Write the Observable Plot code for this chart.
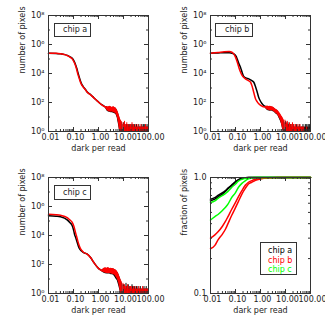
<!DOCTYPE html>
<html><head><meta charset="utf-8">
<script src="https://cdn.jsdelivr.net/npm/d3@7"></script>
<script src="https://cdn.jsdelivr.net/npm/@observablehq/plot@0.6"></script>
<style>
body{margin:0;background:#fff;}
#wrap{position:relative;width:325px;height:325px;font-family:"DejaVu Sans",sans-serif;background:#fff;overflow:hidden;}
.panel{position:absolute;}
.panel svg{overflow:visible;}
.box{position:absolute;border:1px solid #333;box-sizing:border-box;font-size:8px;color:#222;white-space:nowrap;}
</style></head><body>
<div id="wrap"></div>
<script>
// ---- tick labels / categories ----
const xTickValues = [0.01, 0.1, 1, 10, 100];
const histYTicks = [1, 1e2, 1e4, 1e6, 1e8];
const histYMinor = [10, 1e3, 1e5, 1e7];
const fracYTicks = [0.1, 1];
const chipNames = ["chip a", "chip b", "chip c"];

// ---- chip a histogram ----
const aRedX = [0.01, 0.02, 0.03, 0.045, 0.056, 0.07, 0.089, 0.105, 0.12, 0.135, 0.148, 0.17, 0.19, 0.215, 0.245, 0.3, 0.355, 0.5, 0.65, 0.9, 1.2, 1.5, 1.9];
const aRedY = [251000, 245000, 229000, 200000, 174000, 140000, 102000, 62000, 35500, 18000, 9500, 4500, 2500, 1600, 1150, 760, 510, 320, 210, 125, 81, 62, 48];
const aBlackX = [0.01, 0.02, 0.03, 0.045, 0.056, 0.07, 0.089, 0.105, 0.12, 0.135, 0.148, 0.17, 0.19, 0.215, 0.245, 0.3, 0.355, 0.5, 0.65, 0.9, 1.2, 1.5, 1.9];
const aBlackY = [245000, 240000, 226000, 200000, 178000, 148000, 112000, 72000, 42000, 23000, 13000, 5500, 3000, 1800, 1250, 800, 530, 330, 215, 128, 82, 63, 48];
const aBandX = [1.9, 2.2, 2.5, 2.8, 3.2, 3.6, 4.0, 4.5, 5.0, 5.6, 6.3, 7.0, 7.6, 8.2, 8.9];
const aRedHi = [50, 52, 48, 55, 50, 46, 52, 45, 42, 32, 20, 11, 7, 5.6, 4.5];
const aRedLo = [42, 28, 24, 22, 21, 22, 20, 19, 16, 10, 4, 1, 1, 1, 1];
const aBlackHi = [47, 50, 46, 50, 47, 44, 48, 42, 40, 30, 18, 10, 6, 5, 4];
const aBlackLo = [40, 26, 22, 21, 20, 20, 18, 17, 15, 9, 3, 1, 1, 1, 1];

// ---- shared tail bins ----
const tailX = [9.5, 10.2, 11, 11.8, 12.6, 13.5, 14.5, 15.5, 16.6, 17.8, 19, 20.4, 21.9, 23.4, 25, 27, 29, 31, 33, 35.5, 38, 41, 44, 47, 50, 54, 58, 62, 66, 71, 76, 81, 87, 93, 99];
const aRedTail = [4,3,5,3,2, 4,3,2,3,2, 3,2,4,2,3, 2,2,3,2,2, 3,2,2,2,3, 2,2,2,2,2, 3,2,2,2,2];
const aBlackTail = [3,4,3,2,3, 3,2,3,2,3, 2,3,2,3,2, 3,2,2,3,2, 2,3,2,2,2, 3,2,3,2,3, 2,2,3,2,3];

// ---- chip b histogram ----
const bRedX = [0.01, 0.02, 0.035, 0.056, 0.074, 0.1, 0.117, 0.135, 0.158, 0.186, 0.25, 0.316, 0.4, 0.457, 0.513, 0.63, 0.74, 0.85, 1.35, 1.6];
const bRedY = [251000, 282000, 316000, 331000, 282000, 135000, 63000, 27000, 12600, 7200, 4300, 3300, 2500, 1400, 680, 182, 112, 81, 50, 46];
const bBlackX = [0.01, 0.02, 0.035, 0.056, 0.079, 0.105, 0.117, 0.135, 0.158, 0.186, 0.214, 0.28, 0.34, 0.45, 0.54, 0.63, 0.74, 0.85, 0.93, 1.12, 1.35, 1.86];
const bBlackY = [251000, 263000, 275000, 275000, 240000, 158000, 100000, 50000, 27000, 11200, 6200, 4800, 4300, 3200, 2500, 1260, 513, 224, 155, 89, 62, 48];
const bBandX = [1.6, 1.9, 2.2, 2.5, 2.8, 3.2, 3.6, 4.0, 4.5, 5.0, 5.6, 6.3, 7.0, 7.6, 8.2, 8.9];
const bRedHi = [52, 58, 52, 56, 50, 48, 42, 35, 32, 28, 22, 17, 12, 10, 8, 6];
const bRedLo = [40, 30, 28, 26, 28, 25, 22, 18, 16, 12.6, 9, 6, 3, 1.6, 1, 1];
const bBlackHi = [50, 54, 50, 52, 48, 45, 40, 34, 30, 26, 20, 15, 11, 9, 7, 5];
const bBlackLo = [38, 28, 26, 25, 26, 23, 21, 17, 15, 12, 8, 5, 3, 1.5, 1, 1];
const bRedTail = [6,3,4,5,3, 2,4,3,2,3, 4,2,3,2,3, 2,2,3,2,2, 3,2,2,2,2, 2,1,1,1,2, 1,1,1,1,1];
const bBlackTail = [4,5,3,3,4, 3,2,3,3,2, 2,3,2,2,2, 3,2,2,2,3, 2,2,2,2,3, 2,2,3,2,3, 2,3,2,3,2];

// ---- chip c histogram ----
const cRedX = [0.01, 0.02, 0.03, 0.056, 0.071, 0.089, 0.105, 0.12, 0.135, 0.148, 0.166, 0.19, 0.22, 0.257, 0.355, 0.48, 0.65, 1.02, 1.41];
const cRedY = [295000, 275000, 251000, 174000, 120000, 79400, 40000, 16200, 7940, 4270, 2240, 1260, 890, 676, 513, 302, 138, 52, 37];
const cBlackX = [0.01, 0.02, 0.03, 0.056, 0.071, 0.089, 0.1, 0.11, 0.126, 0.141, 0.158, 0.178, 0.209, 0.245, 0.355, 0.48, 0.65, 1.02, 1.41];
const cBlackY = [229000, 214000, 195000, 120000, 79400, 46800, 25100, 12300, 6310, 3310, 1780, 1150, 850, 676, 513, 302, 138, 52, 37];
const cBandX = [1.41, 1.6, 1.9, 2.2, 2.5, 2.8, 3.2, 3.6, 4.0, 4.5, 5.0, 5.6, 6.3, 7.0, 7.6, 8.2, 8.9];
const cRedHi = [40, 52, 60, 55, 63, 52, 56, 50, 52, 46, 42, 35, 25, 16, 11, 8, 6];
const cRedLo = [32, 28, 25, 24, 23, 24, 22, 21, 20, 18, 14, 10, 6, 2.5, 1, 1, 1];
const cBlackHi = [38, 50, 56, 52, 58, 50, 52, 48, 48, 44, 40, 32, 24, 15, 10, 7, 5];
const cBlackLo = [30, 26, 23, 22, 22, 22, 20, 20, 18, 14, 10, 8, 4, 2, 1, 1, 1];
const cRedTail = [5,3,4,3,2, 3,4,2,3,2, 3,3,2,2,3, 2,2,3,2,2, 2,3,2,2,2, 2,3,2,2,2, 2,2,2,2,2];
const cBlackTail = [4,4,3,2,5, 3,2,4,2,3, 2,2,4,3,2, 3,2,2,3,2, 3,2,2,3,2, 2,2,2,3,2, 2,3,2,2,2];

// ---- cumulative fractions ----
const fracX = [0.01, 0.015, 0.02, 0.03, 0.04, 0.05, 0.07, 0.1, 0.13, 0.18, 0.25, 0.33, 0.45, 0.6, 0.8, 1.1, 2, 5, 10, 100];
const aFrac1 = [0.65, 0.67, 0.70, 0.74, 0.77, 0.81, 0.86, 0.92, 0.96, 0.985, 0.995, 1, 1, 1, 1, 1, 1, 1, 1, 1];
const aFrac2 = [0.63, 0.65, 0.68, 0.72, 0.76, 0.80, 0.85, 0.91, 0.95, 0.98, 0.993, 0.998, 1, 1, 1, 1, 1, 1, 1, 1];
const bFrac1 = [0.30, 0.32, 0.34, 0.38, 0.42, 0.46, 0.53, 0.61, 0.68, 0.77, 0.86, 0.91, 0.94, 0.96, 0.975, 0.985, 0.995, 1, 1, 1];
const bFrac2 = [0.243, 0.26, 0.29, 0.325, 0.36, 0.40, 0.47, 0.55, 0.62, 0.72, 0.81, 0.88, 0.91, 0.94, 0.96, 0.975, 0.99, 1, 1, 1];
const cFrac1 = [0.61, 0.63, 0.66, 0.70, 0.73, 0.76, 0.82, 0.88, 0.93, 0.965, 0.985, 0.995, 1, 1, 1, 1, 1, 1, 1, 1];
const cFrac2 = [0.43, 0.46, 0.48, 0.52, 0.555, 0.59, 0.67, 0.74, 0.82, 0.89, 0.94, 0.975, 0.99, 1, 1, 1, 1, 1, 1, 1];

const chipColors = ["#000000", "#ff0000", "#00ff00"];

// ---- layout ----
const W = 162, H = 162, ML = 48, MT = 15, PW = 100, PH = 116;
const INK = "#333";
const sup = {0: "⁰", 2: "²", 4: "⁴", 6: "⁶", 8: "⁸"};

const xAll = d3.scaleLog().domain([0.01, 100]).ticks();
const xMinor = xAll.filter(v => !xTickValues.some(t => Math.abs(t - v) / t < 1e-6));

function pts(xs, ys) { return xs.map((x, i) => ({x, y: ys[i]})); }
function band(xs, hi, lo) { return xs.map((x, i) => ({x, hi: hi[i], lo: lo[i]})); }
function spikes(xs, hs) { return xs.map((x, i) => ({x, h: hs[i]})); }

function frameTicks(yMajor, yMinor) {
  return [
    Plot.ruleX(xTickValues, {x: d => d, insetTop: PH - 4, stroke: INK}),
    Plot.ruleX(xTickValues, {x: d => d, insetBottom: PH - 4, stroke: INK}),
    Plot.ruleX(xMinor, {x: d => d, insetTop: PH - 2, stroke: INK}),
    Plot.ruleX(xMinor, {x: d => d, insetBottom: PH - 2, stroke: INK}),
    Plot.ruleY(yMajor, {y: d => d, insetRight: PW - 4, stroke: INK}),
    Plot.ruleY(yMajor, {y: d => d, insetLeft: PW - 4, stroke: INK}),
    Plot.ruleY(yMinor, {y: d => d, insetRight: PW - 2, stroke: INK}),
    Plot.ruleY(yMinor, {y: d => d, insetLeft: PW - 2, stroke: INK}),
    Plot.frame({stroke: INK}),
    Plot.axisX({ticks: xTickValues, tickSize: 0, tickPadding: 3, tickFormat: d3.format(".2f"), dx: 2, label: null})
  ];
}

function baseOpts() {
  return {
    width: W, height: H, marginLeft: ML, marginTop: MT, marginRight: W - ML - PW, marginBottom: H - MT - PH,
    style: {fontFamily: "DejaVu Sans, sans-serif", fontSize: "8px", color: "#222", background: "transparent", overflow: "visible"}
  };
}

function hist(c) {
  return Plot.plot({
    ...baseOpts(),
    x: {type: "log", domain: [0.01, 100]},
    y: {type: "log", domain: [1, 1e8]},
    marks: [
      Plot.areaY(band(c.bandX, c.blackHi, c.blackLo), {x: "x", y1: "lo", y2: "hi", fill: "#000"}),
      Plot.ruleX(spikes(tailX, c.blackTail), {x: "x", y1: d => 1, y2: "h", stroke: "#000"}),
      Plot.line(pts(c.blackX, c.blackY), {x: "x", y: "y", stroke: "#000", curve: "monotone-x"}),
      Plot.areaY(band(c.bandX, c.redHi, c.redLo), {x: "x", y1: "lo", y2: "hi", fill: "#ff0000"}),
      Plot.ruleX(spikes(tailX, c.redTail), {x: "x", y1: d => 1, y2: "h", stroke: "#ff0000"}),
      Plot.line(pts(c.redX, c.redY), {x: "x", y: "y", stroke: "#ff0000", curve: "monotone-x"}),
      ...frameTicks(histYTicks, histYMinor),
      Plot.axisY({ticks: histYTicks, tickSize: 0, tickPadding: 4, label: null, tickFormat: d => "10" + sup[Math.round(Math.log10(d))]}),
      Plot.text(["dark per read"], {text: d => d, frameAnchor: "bottom", dy: 19}),
      Plot.text(["number of pixels"], {text: d => d, frameAnchor: "left", rotate: -90, dx: -26})
    ]
  });
}

function frac() {
  const series = [[aFrac1, aFrac2], [bFrac1, bFrac2], [cFrac1, cFrac2]];
  const lines = [];
  series.forEach((pair, k) => pair.forEach(ys =>
    lines.push(Plot.line(pts(fracX, ys), {x: "x", y: "y", stroke: chipColors[k], curve: "monotone-x"}))));
  return Plot.plot({
    ...baseOpts(),
    x: {type: "log", domain: [0.01, 100]},
    y: {type: "log", domain: [0.1, 1]},
    marks: [
      ...lines,
      ...frameTicks(fracYTicks, [0.2, 0.3, 0.4, 0.5, 0.6, 0.7, 0.8, 0.9]),
      Plot.axisY({ticks: fracYTicks, tickSize: 0, tickPadding: 4, label: null, tickFormat: d3.format(".1f")}),
      Plot.text(["dark per read"], {text: d => d, frameAnchor: "bottom", dy: 19}),
      Plot.text(["fraction of pixels"], {text: d => d, frameAnchor: "left", rotate: -90, dx: -26})
    ]
  });
}

const wrap = document.getElementById("wrap");
function place(el, left, top) {
  const d = document.createElement("div");
  d.className = "panel"; d.style.left = left + "px"; d.style.top = top + "px";
  d.appendChild(el); wrap.appendChild(d);
}
place(hist({redX: aRedX, redY: aRedY, blackX: aBlackX, blackY: aBlackY, bandX: aBandX, redHi: aRedHi, redLo: aRedLo, blackHi: aBlackHi, blackLo: aBlackLo, redTail: aRedTail, blackTail: aBlackTail}), 0, 0);
place(hist({redX: bRedX, redY: bRedY, blackX: bBlackX, blackY: bBlackY, bandX: bBandX, redHi: bRedHi, redLo: bRedLo, blackHi: bBlackHi, blackLo: bBlackLo, redTail: bRedTail, blackTail: bBlackTail}), 162, 0);
place(hist({redX: cRedX, redY: cRedY, blackX: cBlackX, blackY: cBlackY, bandX: cBandX, redHi: cRedHi, redLo: cRedLo, blackHi: cBlackHi, blackLo: cBlackLo, redTail: cRedTail, blackTail: cBlackTail}), 0, 162);
place(frac(), 162, 162);

function box(left, top, w, h, lines, padL, padT, lh) {
  const b = document.createElement("div");
  b.className = "box";
  Object.assign(b.style, {left: left + "px", top: top + "px", width: w + "px", height: h + "px", paddingLeft: padL + "px", paddingTop: padT + "px", lineHeight: lh + "px"});
  lines.forEach(([t, col]) => { const s = document.createElement("div"); s.textContent = t; s.style.color = col; b.appendChild(s); });
  wrap.appendChild(b);
}
box(54, 23, 37, 14, [[chipNames[0], "#222"]], 8, 0, 12);
box(215, 23, 38, 14, [[chipNames[1], "#222"]], 9, 0, 12);
box(54, 185, 37, 15, [[chipNames[2], "#222"]], 8, 0, 13);
box(260, 242, 37, 33, chipNames.map((n, k) => [n, chipColors[k]]), 7, 3, 9.5);
</script>
</body></html>
